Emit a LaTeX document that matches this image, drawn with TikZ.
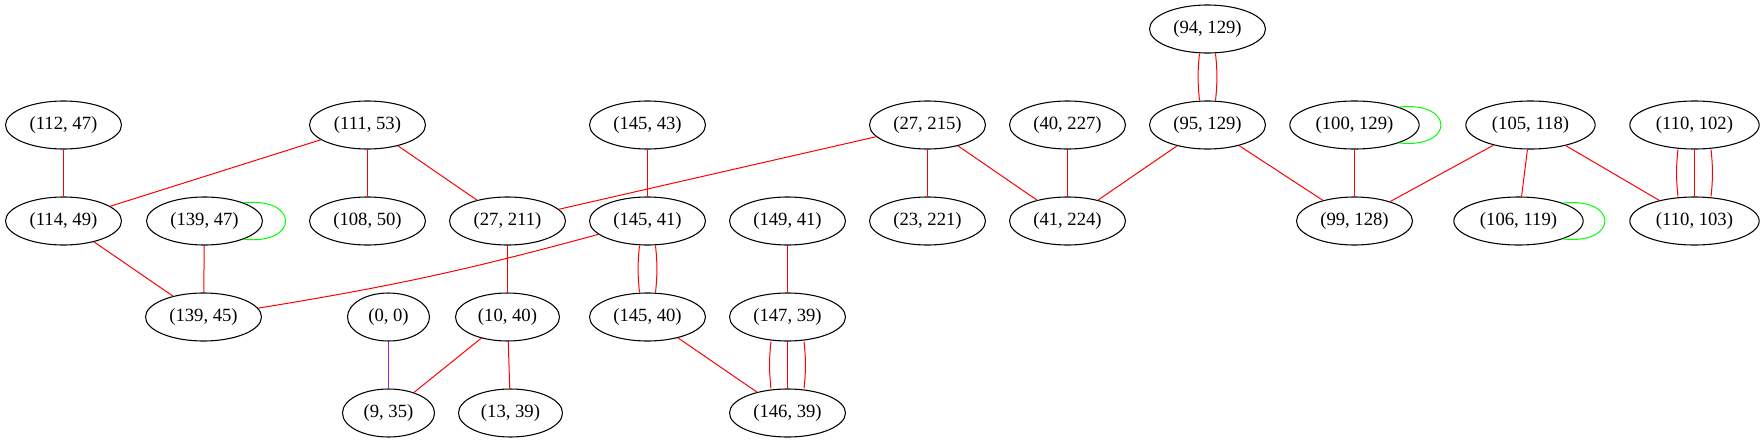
\documentclass[tikz,border=0pt]{standalone}
\usepackage{fontspec}
\setmainfont{Liberation Serif}
\usetikzlibrary{shapes.geometric}
\definecolor{gvgreen}{HTML}{00FF00}
\definecolor{gvpurple}{HTML}{A020F0}
\begin{document}
\begin{tikzpicture}[x=0.75pt,y=0.75pt]
        \tikzstyle{every node}=[draw,ellipse,line width=0.8pt,inner sep=0pt,minimum height=36pt,minimum width=87pt,font=\fontsize{14}{16}\selectfont]
        \tikzstyle{wide}=[minimum width=97pt]
        \tikzstyle{link}=[red,line width=0.75pt]
        \tikzstyle{selfloop}=[gvgreen,line width=0.75pt]
        \useasboundingbox (-0.5,0) rectangle (1763.5,-443);
        \node (n94-129) at (1207,-29) {(94, 129)};
        \node (n112-47) at (63,-125) {(112, 47)};
        \node (n111-53) at (367,-125) {(111, 53)};
        \node (n145-43) at (647,-125) {(145, 43)};
        \node (n27-215) at (927,-125) {(27, 215)};
        \node (n40-227) at (1067,-125) {(40, 227)};
        \node (n95-129) at (1207,-125) {(95, 129)};
        \node[wide] (n100-129) at (1354,-125) {(100, 129)};
        \node[wide] (n105-118) at (1530,-125) {(105, 118)};
        \node[wide] (n110-102) at (1694,-125) {(110, 102)};
        \node (n114-49) at (63,-221) {(114, 49)};
        \node (n139-47) at (204,-221) {(139, 47)};
        \node (n108-50) at (367,-221) {(108, 50)};
        \node (n27-211) at (507,-221) {(27, 211)};
        \node (n145-41) at (647,-221) {(145, 41)};
        \node (n149-41) at (787,-221) {(149, 41)};
        \node (n23-221) at (927,-221) {(23, 221)};
        \node (n41-224) at (1067,-221) {(41, 224)};
        \node (n99-128) at (1354,-221) {(99, 128)};
        \node[wide] (n106-119) at (1518,-221) {(106, 119)};
        \node[wide] (n110-103) at (1694,-221) {(110, 103)};
        \node (n139-45) at (203,-317) {(139, 45)};
        \node[minimum width=61.5pt] (n0-0) at (388,-317) {(0, 0)};
        \node[minimum width=78pt] (n10-40) at (507,-317) {(10, 40)};
        \node (n145-40) at (647,-317) {(145, 40)};
        \node (n147-39) at (787,-317) {(147, 39)};
        \node[minimum width=69pt] (n9-35) at (388,-413) {(9, 35)};
        \node[minimum width=78pt] (n13-39) at (510,-413) {(13, 39)};
        \node (n146-39) at (787,-413) {(146, 39)};
        \draw[link] (n112-47) -- (n114-49);
        \draw[link] (n111-53) -- (n114-49);
        \draw[link] (n111-53) -- (n108-50);
        \draw[link] (n111-53) -- (n27-211);
        \draw[link] (n114-49) -- (n139-45);
        \draw[link] (n139-47) -- (n139-45);
        \draw[selfloop] (n139-47.25) .. controls +(56,6) and +(56,-6) .. (n139-47.-25);
        \draw[link] (n145-41) to[bend left=3] (n139-45);
        \draw[link] (n27-215) -- (n27-211);
        \draw[link] (n145-43) -- (n145-41);
        \draw[link] ([xshift=-6pt]n145-41.south) to[bend right=6] ([xshift=-6pt]n145-40.north);
        \draw[link] ([xshift=6pt]n145-41.south) to[bend left=6] ([xshift=6pt]n145-40.north);
        \draw[link] (n149-41) -- (n147-39);
        \draw[link] ([xshift=-12.4pt]n147-39.south) to[bend right=6] ([xshift=-12.4pt]n146-39.north);
        \draw[link] (n147-39) -- (n146-39);
        \draw[link] ([xshift=12.4pt]n147-39.south) to[bend left=6] ([xshift=12.4pt]n146-39.north);
        \draw[link] (n145-40) -- (n146-39);
        \draw[link] (n27-211) -- (n10-40);
        \draw[gvpurple,line width=0.75pt] (n0-0) -- (n9-35);
        \draw[link] (n10-40) -- (n9-35);
        \draw[link] (n10-40) -- (n13-39);
        \draw[link] (n27-215) -- (n23-221);
        \draw[link] (n27-215) -- (n41-224);
        \draw[link] (n40-227) -- (n41-224);
        \draw[link] (n95-129) -- (n41-224);
        \draw[link] ([xshift=-6pt]n94-129.south) to[bend right=6] ([xshift=-6pt]n95-129.north);
        \draw[link] ([xshift=6pt]n94-129.south) to[bend left=6] ([xshift=6pt]n95-129.north);
        \draw[link] (n95-129) -- (n99-128);
        \draw[link] (n100-129) -- (n99-128);
        \draw[selfloop] (n100-129.22) .. controls +(56,6) and +(56,-6) .. (n100-129.-22);
        \draw[link] (n105-118) -- (n99-128);
        \draw[link] (n105-118) -- (n106-119);
        \draw[link] (n105-118) -- (n110-103);
        \draw[selfloop] (n106-119.22) .. controls +(56,6) and +(56,-6) .. (n106-119.-22);
        \draw[link] ([xshift=-12.4pt]n110-102.south) to[bend right=6] ([xshift=-12.4pt]n110-103.north);
        \draw[link] (n110-102) -- (n110-103);
        \draw[link] ([xshift=12.4pt]n110-102.south) to[bend left=6] ([xshift=12.4pt]n110-103.north);
\end{tikzpicture}
\end{document}
